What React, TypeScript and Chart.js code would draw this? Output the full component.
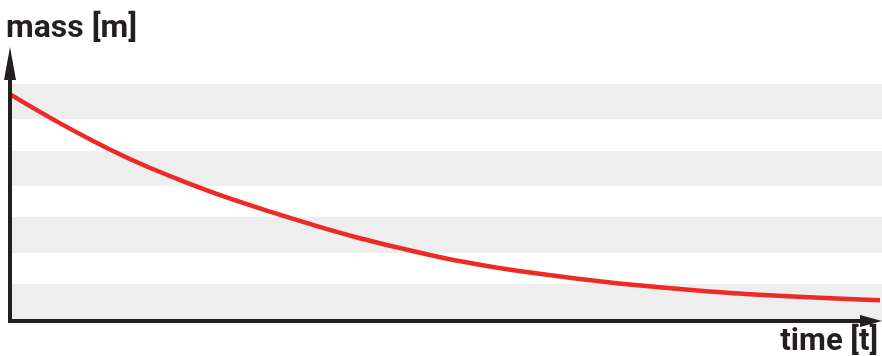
import React, { useEffect, useRef } from "react";
import { Chart, registerables } from "chart.js";

Chart.register(...registerables);

// ---- data ----
const time = [0, 0.5, 1, 1.5, 2, 2.5, 3, 3.5, 4, 4.5, 5, 5.5, 6, 6.5, 7, 7.5, 8, 8.5, 9, 9.5, 10];
const mass = [8.27, 7.35, 6.5, 5.74, 5.09, 4.5, 3.98, 3.49, 3.04, 2.65, 2.29, 2.0, 1.76, 1.55, 1.37, 1.22, 1.09, 0.98, 0.89, 0.82, 0.76];
const bandLow = [0, 2.48, 4.93, 7.37];
const bandHigh = [1.35, 3.8, 6.2, 8.65];
const xTitle = "time [t]";
const yTitle = "mass [m]";

const INK = "#231f20";
const RED = "#ee2a27";
const BAND = "#eeeeee";

const decorPlugin = {
  id: "decor",
  beforeDatasetsDraw(chart: any) {
    const { ctx } = chart;
    const xs = chart.scales.x;
    const ys = chart.scales.y;
    const x0 = xs.getPixelForValue(0);
    ctx.save();
    ctx.fillStyle = BAND;
    for (let i = 0; i < bandLow.length; i++) {
      const yTop = ys.getPixelForValue(bandHigh[i]);
      const yBot = ys.getPixelForValue(bandLow[i]);
      ctx.fillRect(x0, yTop, chart.width - x0, yBot - yTop);
    }
    ctx.restore();
  },
  afterDatasetsDraw(chart: any) {
    const { ctx } = chart;
    const xs = chart.scales.x;
    const ys = chart.scales.y;
    const x0 = xs.getPixelForValue(0);
    const y0 = ys.getPixelForValue(0);
    const yTop = chart.chartArea.top;
    const xEnd = chart.width;
    ctx.save();
    ctx.strokeStyle = INK;
    ctx.fillStyle = INK;
    ctx.lineWidth = 4;
    ctx.lineCap = "butt";
    // y axis
    ctx.beginPath();
    ctx.moveTo(x0, y0 + 2);
    ctx.lineTo(x0, yTop + 30);
    ctx.stroke();
    ctx.beginPath();
    ctx.moveTo(x0, yTop);
    ctx.lineTo(x0 - 6, yTop + 33);
    ctx.lineTo(x0 + 6, yTop + 33);
    ctx.closePath();
    ctx.fill();
    // x axis
    ctx.beginPath();
    ctx.moveTo(x0 - 2, y0);
    ctx.lineTo(xEnd - 20, y0);
    ctx.stroke();
    ctx.beginPath();
    ctx.moveTo(xEnd, y0);
    ctx.lineTo(xEnd - 22, y0 - 6);
    ctx.lineTo(xEnd - 22, y0 + 6);
    ctx.closePath();
    ctx.fill();
    ctx.restore();
  },
};

export default function App() {
  const ref = useRef<HTMLCanvasElement | null>(null);
  useEffect(() => {
    if (!ref.current) return;
    const chart = new Chart(ref.current, {
      type: "line",
      data: {
        datasets: [
          {
            data: time.map((t, i) => ({ x: t, y: mass[i] })),
            borderColor: RED,
            borderWidth: 4.5,
            pointRadius: 0,
            cubicInterpolationMode: "monotone",
            fill: false,
            clip: false as any,
          },
        ],
      },
      options: {
        animation: false,
        responsive: true,
        maintainAspectRatio: false,
        layout: { padding: { left: 6, right: 4, top: 0, bottom: 0 } },
        plugins: {
          legend: { display: false },
          tooltip: { enabled: false },
          title: {
            display: true,
            text: yTitle,
            align: "start",
            color: INK,
            font: { family: "Roboto", weight: "bold", size: 32, lineHeight: 1 },
            padding: { top: 13, bottom: 2 },
          },
          subtitle: {
            display: true,
            text: xTitle,
            position: "bottom",
            align: "end",
            color: INK,
            font: { family: "Roboto", weight: "bold", size: 31, lineHeight: 0.9 },
            padding: { top: 7, bottom: 0.1 },
          },
        },
        scales: {
          x: { type: "linear", display: false, min: -0.046, max: 9.977 },
          y: { type: "linear", display: false, min: 0, max: 10 },
        },
      },
      plugins: [decorPlugin],
    } as any);
    return () => chart.destroy();
  }, []);
  return (
    <div style={{ position: "absolute", left: 0, top: 0, width: 882, height: 356, background: "#fff" }}>
      <canvas ref={ref} />
    </div>
  );
}
